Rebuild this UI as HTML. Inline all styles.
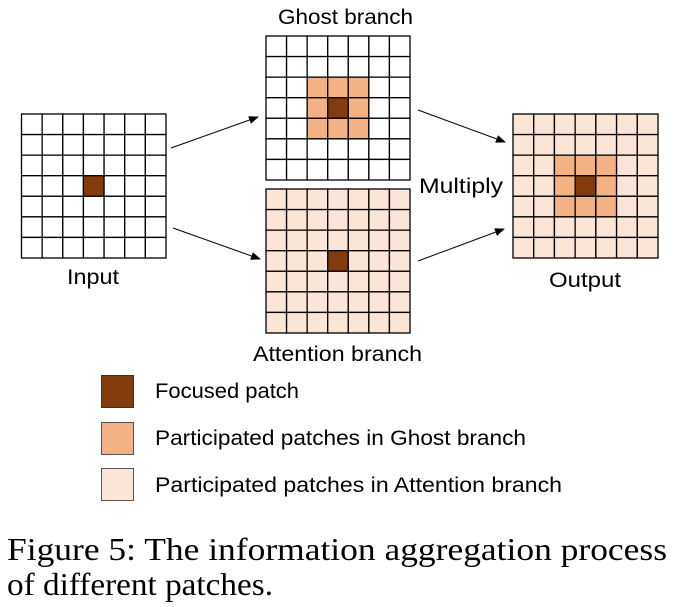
<!DOCTYPE html>
<html><head><meta charset="utf-8"><style>
html,body{margin:0;padding:0;background:#fff;}
svg{display:block;}
</style></head><body>
<svg id="s" width="675" height="607" xmlns="http://www.w3.org/2000/svg" style="font-family:'Liberation Sans',sans-serif">
<defs><marker id="a" markerWidth="10" markerHeight="8" refX="9" refY="4" orient="auto" markerUnits="userSpaceOnUse"><path d="M0,0 L10,4 L0,8 z" fill="#000"/></marker></defs>
<g id="grids"></g>
<g stroke="#000" stroke-width="1" marker-end="url(#a)">
<line x1="171" y1="148" x2="258" y2="117"/>
<line x1="173" y1="228" x2="260" y2="259"/>
<line x1="418" y1="110" x2="505" y2="142"/>
<line x1="418" y1="261" x2="504" y2="229"/>
</g>
<g font-size="21" fill="#000" lengthAdjust="spacingAndGlyphs">
<text x="278" y="24" textLength="135" lengthAdjust="spacingAndGlyphs">Ghost branch</text>
<text x="67" y="284" textLength="52" lengthAdjust="spacingAndGlyphs">Input</text>
<text x="419" y="193" textLength="84" lengthAdjust="spacingAndGlyphs">Multiply</text>
<text x="549" y="287" textLength="72" lengthAdjust="spacingAndGlyphs">Output</text>
<text x="253" y="361" textLength="169" lengthAdjust="spacingAndGlyphs">Attention branch</text>
<rect x="101.5" y="375.5" width="32" height="32" fill="#843c0c" stroke="#333"/>
<rect x="101.5" y="422.5" width="32" height="32" fill="#f4b183" stroke="#555"/>
<rect x="101.5" y="468.5" width="32" height="32" fill="#fbe5d6" stroke="#555"/>
<text x="155" y="398" textLength="144" lengthAdjust="spacingAndGlyphs">Focused patch</text>
<text x="155" y="445" textLength="371" lengthAdjust="spacingAndGlyphs">Participated patches in Ghost branch</text>
<text x="155" y="492" textLength="407" lengthAdjust="spacingAndGlyphs">Participated patches in Attention branch</text>
</g>
<g style="font-family:'Liberation Serif',serif" font-size="32" fill="#000">
<text x="7" y="560" textLength="660" lengthAdjust="spacingAndGlyphs">Figure 5: The information aggregation process</text>
<text x="7" y="595" textLength="266" lengthAdjust="spacingAndGlyphs">of different patches.</text>
</g>
</svg>
<script>
var g=document.getElementById('grids');
function grid(x0,y0,w,h,fill){
 var cw=w/7,ch=h/7,s='';
 for(var r=0;r<7;r++)for(var c=0;c<7;c++){
  s+='<rect x="'+(x0+c*cw)+'" y="'+(y0+r*ch)+'" width="'+cw+'" height="'+ch+'" fill="'+fill(r,c)+'" stroke="#000" stroke-width="1.3"/>';
 }
 g.insertAdjacentHTML('beforeend',s);
}
var D='#843c0c',O='#f4b183',L='#fbe5d6',W='#fff';
function near(r,c){return Math.abs(r-3)<=1&&Math.abs(c-3)<=1;}
grid(21.5,114,144.5,144,function(r,c){return r==3&&c==3?D:W;});
grid(266,36,144,144,function(r,c){return r==3&&c==3?D:(near(r,c)?O:W);});
grid(266,189,144,144,function(r,c){return r==3&&c==3?D:L;});
grid(513,114,145,144,function(r,c){return r==3&&c==3?D:(near(r,c)?O:L);});
</script>
</body></html>
